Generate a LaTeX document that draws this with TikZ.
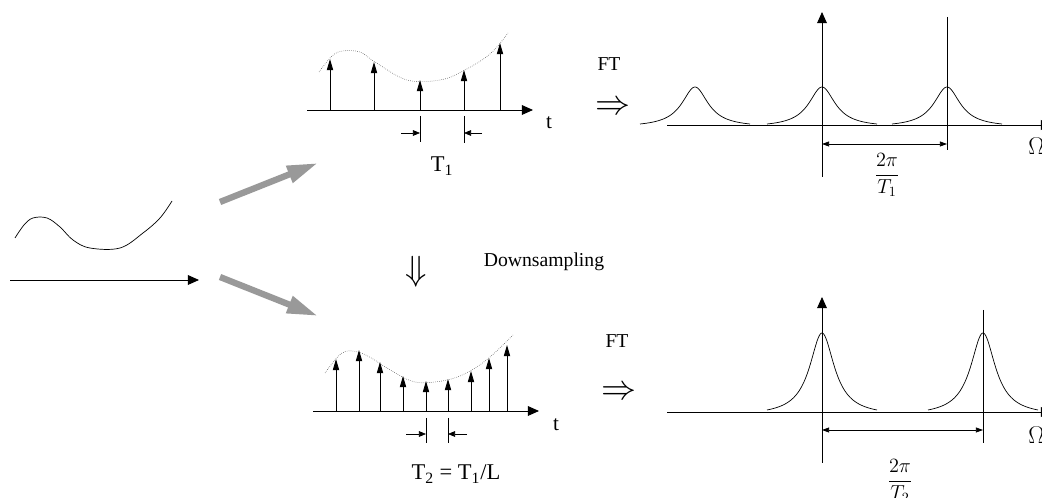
\documentclass[tikz,border=0pt]{standalone}
\usepackage{fontspec}
\setmainfont{Liberation Serif}
\usetikzlibrary{arrows.meta}

\tikzset{
  axis/.style={-{Triangle[length=8pt,width=7pt]}, line width=0.6pt},
  stem/.style={-{Triangle[length=8pt,width=4.5pt]}, line width=0.6pt},
  small/.style={-{Triangle[length=5pt,width=4pt]}, line width=0.5pt},
  dim/.style={{Triangle[length=5pt,width=3.5pt]}-{Triangle[length=5pt,width=3.5pt]}, line width=0.5pt},
  fan/.style={-{Triangle[length=22pt,width=12pt]}, line width=4.5pt, black!40},
  sampled/.style={densely dotted, line width=0.4pt, black!70},
  peak/.style={line width=0.5pt},
  lbl/.style={font=\fontsize{16}{18}\selectfont, inner sep=0pt},
  note/.style={font=\fontsize{14}{16}\selectfont, inner sep=0pt},
  big/.style={font=\fontsize{24}{26}\selectfont, inner sep=0pt}
}

\begin{document}
\begin{tikzpicture}[x=0.025cm, y=-0.025cm]

  \useasboundingbox (0,0) rectangle (1042,498);

  % Analog signal on the left
  \draw[line width=0.5pt]
        plot[smooth, tension=0.6] coordinates {(15,238) (24,225) (33,218) (47,218) (60,227)
        (73,240) (90,248) (120,248) (143,233) (160,218) (172,201)};

  \coordinate (inA) at (10,280);
  \coordinate (inB) at (199,280);
  \draw[axis] (inA) -- (inB);

  % Grey arrows to both samplings
  \coordinate (fanS1) at (220,202);
  \coordinate (fanE1) at (318,163);
  \coordinate (fanS2) at (220,277);
  \coordinate (fanE2) at (318,316);
  \draw[fan] (fanS1) -- (fanE1);
  \draw[fan] (fanS2) -- (fanE2);

  % Top: sampling with T1
  \coordinate (tA) at (307,110);
  \coordinate (tB) at (533,110);
  \draw[axis] (tA) -- (tB);
  \node[lbl, font=\fontsize{15}{17}\selectfont] (tTop) at (549,123) {t};

  \draw[sampled]
        plot[smooth, tension=0.6] coordinates {(319,72) (332,56) (343,51) (360,52) (375,62)
        (407,80) (440,80) (463,71) (490,54) (508,33)};

  \foreach \x/\y in {330/59, 374/62, 420/80, 464/70, 500/43}
    \draw[stem] (\x,110) -- (\x,\y);

  \draw[line width=0.5pt] (420,116) -- (420,142) (464,116) -- (464,143);
  \draw[small] (401,133) -- (420,133);
  \draw[small] (482,133) -- (464,133);
  \node[lbl] (perA) at (442,166) {T\textsubscript{1}};

  % Top spectrum
  \node[note] (ftTop) at (609,64) {FT};
  \node[big] (impTop) at (613,108) {$\Rightarrow$};

  \coordinate (wA) at (667,125);
  \coordinate (wB) at (1052,125);
  \draw[axis] (wA) -- (wB);
  \node[lbl, anchor=west] (omTop) at (1028,146) {$\Omega$};

  \coordinate (vA) at (822,177);
  \coordinate (vB) at (822,12);
  \draw[axis] (vA) -- (vB);
  \draw[line width=0.5pt] (947,17) -- (947,150);

  \foreach \c in {695,822,947}
    \draw[peak] plot[domain=-55:55, samples=111, smooth]
          ({\c+\x},{124-37*(1/(1+(\x/16)*(\x/16))-0.078)/0.922});

  \draw[dim] (822,144) -- (947,144);
  \node[note] (fracA) at (887,175) {$\displaystyle\frac{2\pi}{T_1}$};

  % Downsampling step
  \node[big] (down) at (416,272) {$\Downarrow$};
  \node[note] (downTxt) at (544,262) {Downsampling};

  % Bottom: sampling with T2
  \coordinate (sA) at (313,411);
  \coordinate (sB) at (539,411);
  \draw[axis] (sA) -- (sB);
  \node[lbl, font=\fontsize{15}{17}\selectfont] (tBot) at (556,425) {t};

  \draw[sampled]
        plot[smooth, tension=0.6] coordinates {(325,373) (342,353) (358,352) (373,359)
        (387,368) (415,382) (447,380) (470,371) (490,357) (513,335)};

  \foreach \x/\y in {336/359, 359/350, 380/362, 403/376, 426/381, 448/379, 471/371, 489/358, 507/345}
    \draw[stem] (\x,411) -- (\x,\y);

  \draw[line width=0.5pt] (426,418) -- (426,443) (448,418) -- (448,443);
  \draw[small] (406,434) -- (426,434);
  \draw[small] (467,434) -- (448,434);
  \node[lbl] (perB) at (456,474) {T\textsubscript{2} = T\textsubscript{1}/L};

  % Bottom spectrum
  \node[note] (ftBot) at (617,341) {FT};
  \node[big] (impBot) at (619,393) {$\Rightarrow$};

  \coordinate (uA) at (667,412);
  \coordinate (uB) at (1052,412);
  \draw[axis] (uA) -- (uB);
  \node[lbl, anchor=west] (omBot) at (1028,435) {$\Omega$};

  \coordinate (hA) at (822,463);
  \coordinate (hB) at (822,297);
  \draw[axis] (hA) -- (hB);
  \draw[line width=0.5pt] (983,310) -- (983,443);

  \foreach \c in {822,983}
    \draw[peak] plot[domain=-55:55, samples=111, smooth]
          ({\c+\x},{410-77*(1/(1+(\x/15)*(\x/15))-0.069)/0.931});

  \draw[dim] (822,430) -- (983,430);
  \node[note] (fracB) at (900,481) {$\displaystyle\frac{2\pi}{T_2}$};

\end{tikzpicture}
\end{document}
